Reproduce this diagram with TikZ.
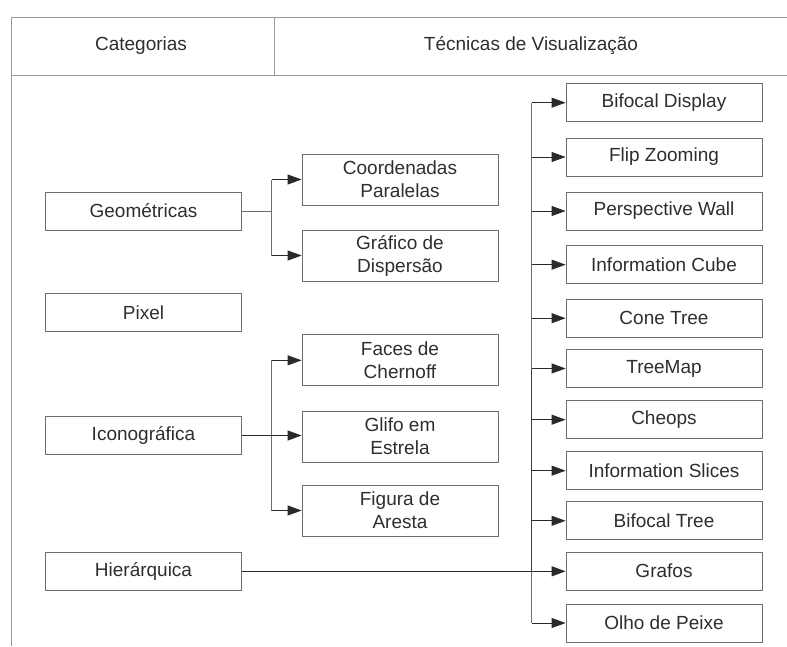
\documentclass[tikz,border=0pt]{standalone}
\usepackage{fontspec}
\setmainfont{Liberation Sans}
\usetikzlibrary{arrows.meta}
\definecolor{boxline}{HTML}{6E6E6E}
\definecolor{gridline}{HTML}{9A9A9A}
\definecolor{txt}{HTML}{2E2E2E}
\definecolor{tip}{HTML}{2A2A2A}
\begin{document}
\begin{tikzpicture}[x=1pt,y=-1pt,
  every node/.style={text=txt,font=\fontsize{19}{23}\selectfont},
  catbox/.style={draw=boxline,line width=0.8pt,minimum width=196pt,minimum height=38pt,inner sep=0pt,align=center},
  techbox/.style={draw=boxline,line width=0.8pt,minimum width=196pt,minimum height=51pt,inner sep=0pt,align=center},
  wire/.style={draw=boxline,line width=0.8pt},
  heavywire/.style={draw=black!75,line width=1.1pt},
  arr/.style={-{Triangle[length=14pt,width=10pt,fill=tip]},color=tip},
  grid/.style={draw=gridline,line width=1pt}]
\useasboundingbox (0,0) rectangle (787,646);

% header row and left frame
\draw[grid] (11,17.7) -- (787,17.7);
\draw[grid] (11,75) -- (787,75);
\draw[grid] (11,17.7) -- (11,646);
\draw[grid] (274.7,17.7) -- (274.7,75);
\node (hcat) at (141,46) {Categorias};
\node (htec) at (531,46) {Técnicas de Visualização};

% categories
\node[catbox] (geo)  at (143.5,211)   {Geométricas};
\node[catbox] (pix)  at (143.5,312.5) {Pixel};
\node[catbox] (ico)  at (143.5,435.5) {Iconográfica};
\node[catbox] (hier) at (143.5,571.3) {Hierárquica};

% geometric and iconographic techniques
\node[techbox] (coord) at (400,179.5) {Coordenadas\\Paralelas};
\node[techbox] (disp)  at (400,255.5) {Gráfico de\\Dispersão};
\node[techbox] (cher)  at (400,360.3) {Faces de\\Chernoff};
\node[techbox] (glifo) at (400,436.6) {Glifo em\\Estrela};
\node[techbox] (aresta) at (400,510.5) {Figura de\\Aresta};

% hierarchical techniques
\node[catbox] (bd)  at (664,102.7) {Bifocal Display};
\node[catbox] (fz)  at (664,157)   {Flip Zooming};
\node[catbox] (pw)  at (664,211)   {Perspective Wall};
\node[catbox] (ic)  at (664,264.7) {Information Cube};
\node[catbox] (ct)  at (664,318.2) {Cone Tree};
\node[catbox] (tm)  at (664,368.5) {TreeMap};
\node[catbox] (ch)  at (664,419.7) {Cheops};
\node[catbox] (is)  at (664,470.7) {Information Slices};
\node[catbox] (bt)  at (664,520.8) {Bifocal Tree};
\node[catbox] (gr)  at (664,571)   {Grafos};
\node[catbox] (op)  at (664,623)   {Olho de Peixe};

% branch points
\coordinate (gj) at (271.7,211);
\coordinate (ij) at (271.7,435.5);
\coordinate (rt) at (531.5,0);

% geometric branch
\draw[wire] (geo.east) -- (gj);
\draw[wire] (gj |- coord.west) -- (gj |- disp.west);
\draw[wire,arr] (gj |- coord.west) -- (coord.west);
\draw[wire,arr] (gj |- disp.west) -- (disp.west);

% iconographic branch
\draw[wire] (ij |- cher.west) -- (ij |- aresta.west);
\draw[wire,arr] (ij |- cher.west) -- (cher.west);
\draw[wire,arr] (ij |- aresta.west) -- (aresta.west);
\draw[heavywire,arr] (ico.east) -- (ico.east -| glifo.west);

% hierarchical branch
\draw[wire] (rt |- bd.west) -- (rt |- op.west);
\draw[heavywire] (rt |- tm.west) -- (rt |- gr.west);
\foreach \t in {bd,fz,pw,ic,ct,tm,ch,is,bt,op}
  \draw[wire,arr] (rt |- \t.west) -- (\t.west);
\draw[heavywire,arr] (hier.east) -- (hier.east -| gr.west);
\end{tikzpicture}
\end{document}
